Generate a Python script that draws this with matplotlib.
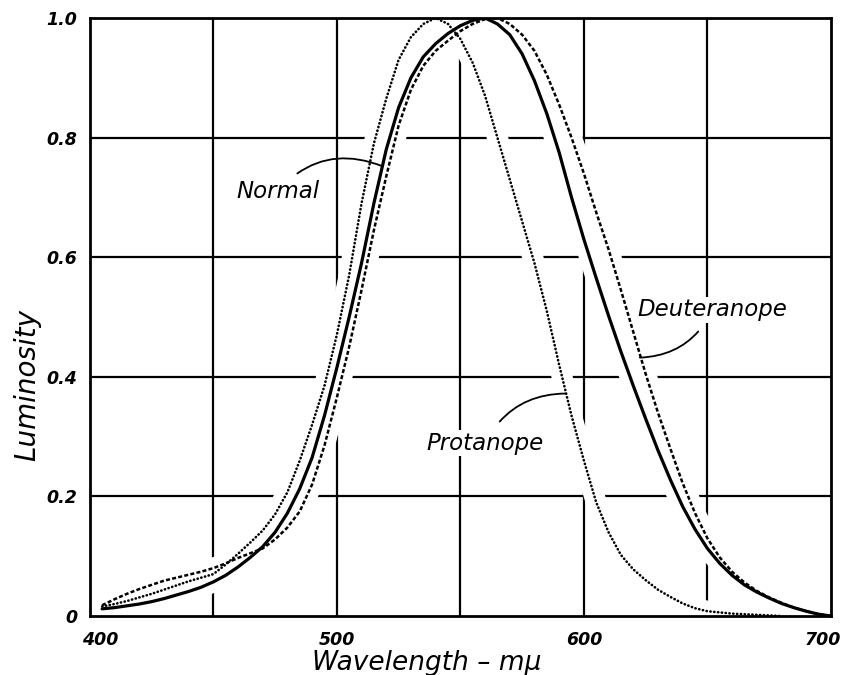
import numpy as np
import matplotlib
matplotlib.use("Agg")
import matplotlib.pyplot as plt
import matplotlib.transforms as mtransforms

# ---- data ----
wavelength = list(range(405, 705, 5))

normal = [0.012, 0.014, 0.017, 0.020, 0.024, 0.029, 0.035, 0.041, 0.048, 0.057,
          0.068, 0.082, 0.098, 0.116, 0.140, 0.172, 0.213, 0.265, 0.335, 0.415,
          0.50, 0.59, 0.69, 0.78, 0.85, 0.90, 0.935, 0.957, 0.974, 0.987,
          0.996, 1.0, 0.99, 0.972, 0.94, 0.895, 0.84, 0.775, 0.70, 0.63,
          0.565, 0.502, 0.442, 0.385, 0.33, 0.277, 0.228, 0.183, 0.145, 0.113,
          0.088, 0.068, 0.052, 0.040, 0.030, 0.021, 0.014, 0.008, 0.003, 0.0]

deuteranope = [0.018, 0.028, 0.037, 0.045, 0.052, 0.059, 0.064, 0.069, 0.074, 0.080,
               0.088, 0.097, 0.105, 0.113, 0.128, 0.148, 0.175, 0.22, 0.285, 0.365,
               0.45, 0.545, 0.645, 0.735, 0.82, 0.88, 0.92, 0.945, 0.962, 0.978,
               0.99, 0.998, 1.0, 0.99, 0.972, 0.945, 0.905, 0.855, 0.80, 0.74,
               0.675, 0.613, 0.545, 0.475, 0.405, 0.34, 0.28, 0.222, 0.172, 0.13,
               0.098, 0.074, 0.056, 0.042, 0.031, 0.022, 0.014, 0.008, 0.003, 0.0]

protanope_wl = list(range(405, 685, 5))
protanope = [0.016, 0.020, 0.025, 0.031, 0.037, 0.044, 0.051, 0.058, 0.064, 0.070,
             0.086, 0.104, 0.123, 0.143, 0.170, 0.207, 0.26, 0.32, 0.385, 0.47,
             0.57, 0.69, 0.79, 0.865, 0.93, 0.968, 0.99, 1.0, 0.99, 0.965,
             0.925, 0.87, 0.80, 0.73, 0.66, 0.59, 0.51, 0.42, 0.335, 0.26,
             0.19, 0.14, 0.102, 0.078, 0.06, 0.044, 0.032, 0.021, 0.013, 0.008,
             0.006, 0.004, 0.003, 0.002, 0.001, 0.0]

x_ticks = [400, 500, 600, 700]
x_tick_labels = ["400", "500", "600", "700"]
y_ticks = [0, 0.2, 0.4, 0.6, 0.8, 1.0]
y_tick_labels = ["0", "0.2", "0.4", "0.6", "0.8", "1.0"]
x_grid = [450, 500, 550, 600, 650]
y_grid = [0.2, 0.4, 0.6, 0.8]

# ---- figure ----
fig = plt.figure(figsize=(8.47, 6.75), dpi=100)
ax = fig.add_axes([0.106, 0.0874, 0.875, 0.886])
ax.set_xlim(400, 700)
ax.set_ylim(0, 1.0)

# grid lines
for g in x_grid:
    ax.axvline(g, color="black", lw=1.6, zorder=1)
for g in y_grid:
    ax.axhline(g, color="black", lw=1.6, zorder=1)

# white underlays so grid lines break around the curves (as in the drawing)
for xs, ys in [(wavelength, normal), (wavelength, deuteranope), (protanope_wl, protanope)]:
    ax.plot(xs, ys, color="white", lw=15, solid_capstyle="butt",
            solid_joinstyle="round", zorder=2)

# curves
ax.plot(wavelength, normal, color="black", lw=2.3, solid_capstyle="round",
        solid_joinstyle="round", zorder=3)
ax.plot(wavelength, deuteranope, color="black", lw=1.8, linestyle=(0, (1.6, 0.9)),
        dash_capstyle="butt", zorder=3)
ax.plot(protanope_wl, protanope, color="black", lw=1.9, linestyle=(0, (0.1, 1.35)),
        dash_capstyle="round", zorder=3)

for s in ax.spines.values():
    s.set_linewidth(2.0)
    s.set_zorder(5)

ax.set_xticks(x_ticks)
ax.set_xticklabels(x_tick_labels)
ax.set_yticks(y_ticks)
ax.set_yticklabels(y_tick_labels)
ax.tick_params(length=0, labelsize=12.5)
ax.tick_params(axis="x", pad=11)
ax.tick_params(axis="y", pad=9)
for lab in ax.get_xticklabels() + ax.get_yticklabels():
    lab.set_fontweight("bold")
    lab.set_fontstyle("italic")

# hand-lettered offsets of the end tick labels
xlabs = ax.get_xticklabels()
xlabs[0].set_transform(xlabs[0].get_transform() +
                       mtransforms.ScaledTranslation(10 / 100, 0, fig.dpi_scale_trans))
xlabs[-1].set_transform(xlabs[-1].get_transform() +
                        mtransforms.ScaledTranslation(-8 / 100, 0, fig.dpi_scale_trans))

# axis titles
ax.text(-0.085, 0.386, "Luminosity", transform=ax.transAxes, rotation=90,
        ha="center", va="center", fontsize=20, fontstyle="italic")
ax.text(0.455, -0.078, "Wavelength \u2013 m\u03bc", transform=ax.transAxes,
        ha="center", va="center", fontsize=19, fontstyle="italic")

# curve labels with pointers
lab_kw = dict(fontsize=16.5, fontstyle="italic", zorder=6,
              bbox=dict(facecolor="white", edgecolor="none", pad=1))
ax.annotate("Normal", xy=(518.5, 0.752), xytext=(476, 0.71), ha="center", va="center",
            arrowprops=dict(arrowstyle="-", color="black", lw=1.3,
                            connectionstyle="arc3,rad=-0.35", shrinkA=6, shrinkB=0),
            **lab_kw)
ax.annotate("Protanope", xy=(592.5, 0.372), xytext=(560, 0.289), ha="center", va="center",
            arrowprops=dict(arrowstyle="-", color="black", lw=1.3,
                            connectionstyle="arc3,rad=-0.3", shrinkA=8, shrinkB=0),
            **lab_kw)
ax.annotate("Deuteranope", xy=(622.7, 0.432), xytext=(652, 0.512), ha="center", va="center",
            arrowprops=dict(arrowstyle="-", color="black", lw=1.3,
                            connectionstyle="arc3,rad=-0.3", shrinkA=8, shrinkB=0),
            **lab_kw)

fig.savefig("out.png", dpi=100)
